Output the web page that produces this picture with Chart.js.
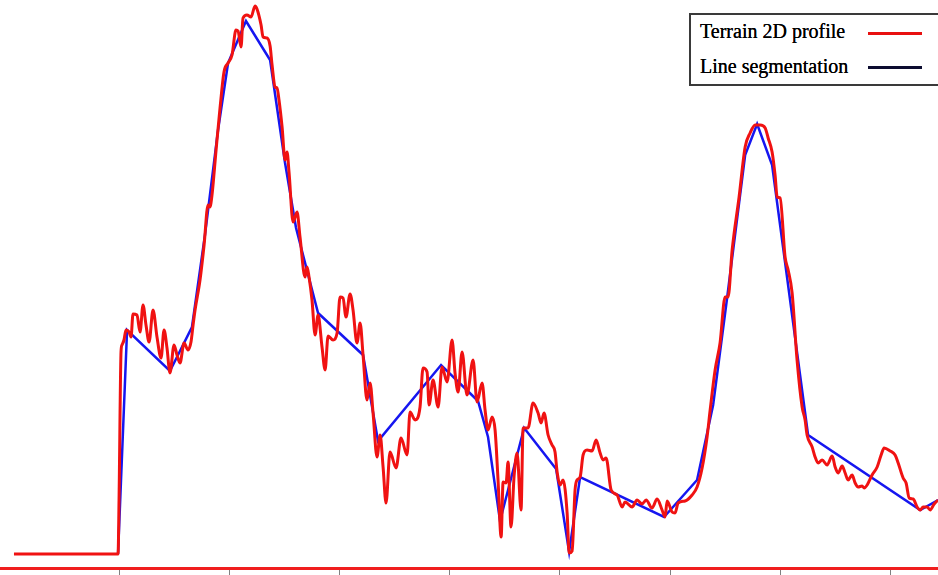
<!DOCTYPE html>
<html>
<head>
<meta charset="utf-8">
<title>Terrain 2D profile</title>
<script src="https://cdn.jsdelivr.net/npm/chart.js@4/dist/chart.umd.min.js"></script>
<style>
  html, body { margin: 0; padding: 0; background: #ffffff; }
  #wrap { position: relative; width: 938px; height: 575px; overflow: hidden; }
  #legend {
    position: absolute; left: 689px; top: 13px; width: 270px; height: 73px;
    border: 2px solid #3a3a3a; background: #ffffff; box-sizing: border-box;
    font-family: "Liberation Serif", "DejaVu Serif", serif; font-size: 20px; color: #000;
  }
  .item { position: absolute; left: 9px; white-space: nowrap; line-height: 20px; text-shadow: 0 0 0.6px #000; }
  .swatch { position: absolute; left: 177px; width: 54px; height: 3px; }
</style>
</head>
<body>
<div id="wrap">
  <canvas id="chart" width="938" height="575"></canvas>
  <div id="legend">
    <div class="item" style="top:6px;">Terrain 2D profile</div>
    <div class="swatch" style="top:17px; background:#e81010;"></div>
    <div class="item" style="top:41px;">Line segmentation</div>
    <div class="swatch" style="top:51px; background:#0c0c30;"></div>
  </div>
</div>
<script>
// Distance along the profile (m) and terrain elevation (m)
const profileDist = [
  3.7, 98.3, 99.2, 101.0, 101.9, 103.7, 105.5, 108.3, 110.1, 111.9, 115.5, 118.3, 121.0, 123.7, 126.5,
  130.1, 133.7, 137.4, 140.1, 142.8, 145.5, 149.2, 151.9, 154.6, 158.3, 161.9, 164.6, 166.5, 168.3,
  172.8, 176.5, 180.1, 181.8, 183.7, 187.4, 191.0, 194.6, 198.3, 201.9, 205.5, 207.4, 210.1, 211.9,
  215.5, 219.2, 222.8, 224.6, 228.3, 230.1, 233.7, 236.5, 238.3, 241.0, 242.8, 244.6, 247.4, 250.1,
  251.9, 253.7, 257.4, 261.0, 263.7, 268.3, 270.1, 271.9, 274.6, 277.4, 280.1, 283.7, 286.5, 289.2,
  293.7, 297.4, 300.1, 302.8, 305.5, 309.2, 311.9, 315.5, 318.3, 321.0, 324.6, 327.4, 330.1, 333.7,
  336.5, 339.2, 341.9, 345.5, 351.0, 355.5, 361.0, 363.7, 368.3, 372.8, 375.5, 379.2, 381.0, 384.6,
  389.2, 392.8, 397.4, 401.9, 404.6, 407.4, 411.0, 415.5, 421.0, 424.6, 429.2, 431.9, 434.6, 438.3,
  441.0, 443.7, 446.5, 448.3, 451.0, 452.8, 455.5, 458.3, 461.0, 464.6, 466.5, 471.0, 475.5, 480.1,
  482.8, 485.5, 489.2, 492.8, 495.5, 497.4, 500.1, 502.8, 506.5, 508.3, 511.0, 513.7, 515.5, 518.3,
  521.0, 524.6, 529.2, 532.8, 536.5, 539.2, 541.9, 546.5, 551.9, 556.5, 559.2, 565.5, 570.1, 574.6,
  578.3, 583.7, 588.3, 592.8, 595.5, 597.4, 601.9, 604.6, 607.4, 613.7, 620.1, 624.6, 629.2, 633.7,
  636.5, 641.0, 645.5, 650.1, 652.8, 656.5, 662.8, 668.3, 672.8, 677.4, 681.9, 686.5, 689.2, 692.8,
  695.5, 697.4, 700.1, 704.6, 707.4, 711.0, 715.5, 720.1, 722.8, 724.6, 729.2, 731.9, 734.6, 738.3,
  742.8, 747.4, 750.1, 752.8, 756.5, 759.2, 761.9, 765.5, 768.3, 771.0, 774.6, 776.5, 779.2, 783.7,
  788.3, 791.9, 794.6, 800.1, 804.6, 807.4, 811.9, 814.6, 817.4, 821.0, 824.6, 827.4, 830.1, 833.7,
  836.5, 840.1, 843.7
];
const profileElev = [
  7, 7, 34, 108, 111.5, 114, 119, 118, 115.5, 127, 126.5, 118, 131.5, 121.5, 113,
  129, 115.5, 105, 119, 110, 97.5, 111.5, 106.5, 102.5, 112.5, 109, 113, 121.5, 129,
  144, 161.5, 181.5, 180.5, 186.5, 209, 230, 248, 252.5, 256.5, 269, 268.5, 260.5, 275,
  276.5, 275.5, 281, 279.5, 271.5, 265.5, 265, 261, 251.5, 240.5, 240, 234, 220.5, 204,
  208, 198, 173, 178, 165.5, 145.5, 150.5, 145.5, 134, 116.5, 126.5, 110.5, 99, 116,
  114, 117.5, 135.5, 135, 125.5, 137, 129, 112.5, 122.5, 106.5, 84, 92.5, 77.5, 55.5,
  66.5, 50.5, 32.5, 58, 50, 65, 56.5, 78, 74, 80.5, 100, 98, 81.5, 94,
  80.5, 100.5, 93, 114, 97.5, 88, 108, 86.5, 104, 83, 92.5, 79, 69, 75.5,
  69, 44, 15.5, 43, 42.5, 53, 20.5, 46, 57.5, 29, 70, 70, 82.5, 77.5,
  72.5, 77.5, 66.5, 61.5, 58, 48, 41.5, 44, 27.5, 7.5, 8.5, 39, 44, 45.5,
  56.5, 59, 58.5, 64, 57.5, 54, 55, 39, 36.5, 30.5, 33, 30.5, 34, 32,
  34, 30, 34.5, 29, 25.5, 33.5, 28, 27.5, 32.5, 33.5, 36.5, 40.5, 50, 65.5,
  79, 99, 112.5, 135.5, 135.5, 159, 185.5, 210.5, 217.5, 221.5, 221.5, 220, 215, 208,
  196.5, 185.5, 185, 155.5, 149, 137.5, 104, 80.5, 74, 66.5, 60.5, 55.5, 52.5, 54,
  51.5, 56, 50.5, 47.5, 51, 47.5, 44, 46.5, 42.5, 40.5, 41, 40, 41.5, 46.5,
  50.5, 56.5, 60, 58.5, 56.5, 52.5, 45, 42.5, 35, 34.5, 30.5, 29, 30.5, 30.5,
  29, 32, 34
];

// Piecewise-linear segmentation of the profile
const segDist = [98.3, 106.5, 145.5, 165.5, 177.3, 189.2, 198.3, 214.6, 236.5, 250.1, 260.1, 280.1,
  321.0, 334.6, 391.9, 425.5, 434.6, 445.5, 467.4, 496.5, 508.3, 518.3, 594.6, 624.6, 639.2,
  651.9, 668.3, 679.2, 692.8, 725.5, 827.4, 843.7];
const segElev = [7, 119, 98.5, 120.5, 166.5, 219, 252.5, 273.5, 254, 202.5, 170, 127.5,
  106.5, 63.5, 101.5, 83.5, 65.5, 23.5, 70, 49.5, 8, 45.5, 25.5, 44, 81.5,
  135, 206.5, 222, 201.5, 66.5, 29, 34];

// Distance axis tick positions (m)
const tickValues = [100, 200, 300, 400, 500, 600, 700, 800];

const toPoints = (xs, ys) => xs.map((x, i) => ({ x: x, y: ys[i] }));

new Chart(document.getElementById('chart'), {
  type: 'line',
  data: {
    datasets: [
      {
        label: 'Terrain 2D profile',
        data: toPoints(profileDist, profileElev),
        borderColor: 'rgb(240,18,18)',
        borderWidth: 3,
        pointRadius: 0,
        cubicInterpolationMode: 'monotone',
        fill: false
      },
      {
        label: 'Line segmentation',
        data: toPoints(segDist, segElev),
        borderColor: 'rgb(22,22,240)',
        borderWidth: 2.5,
        pointRadius: 0,
        tension: 0,
        fill: false
      }
    ]
  },
  options: {
    responsive: false,
    animation: false,
    clip: false,
    layout: { padding: 0 },
    plugins: { legend: { display: false }, tooltip: { enabled: false } },
    scales: {
      x: {
        type: 'linear',
        min: -9,
        max: 843.6,
        afterBuildTicks: (scale) => { scale.ticks = tickValues.map(v => ({ value: v })); },
        ticks: { display: false },
        grid: { drawOnChartArea: false, drawTicks: true, tickLength: 7, color: '#808080', lineWidth: 1 },
        border: { display: true, color: 'rgb(240,30,30)', width: 3 }
      },
      y: {
        type: 'linear',
        display: false,
        min: 0,
        max: 284
      }
    }
  }
});
</script>
</body>
</html>
